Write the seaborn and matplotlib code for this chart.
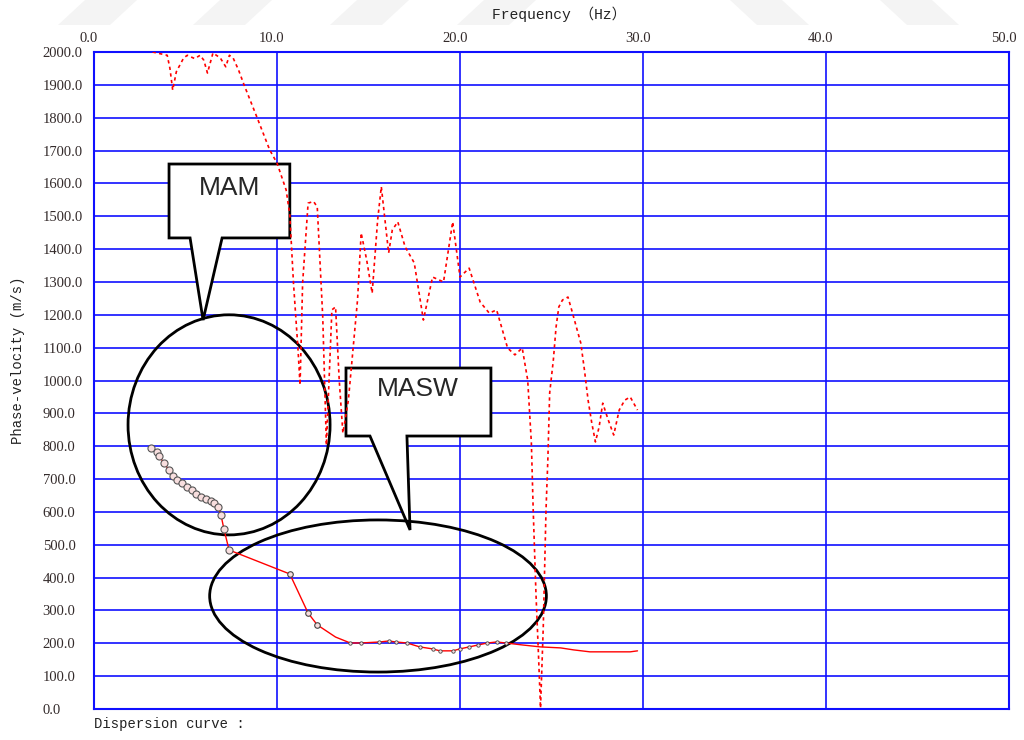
import matplotlib
matplotlib.use('Agg')
import matplotlib.pyplot as plt
import matplotlib.transforms as mtransforms
from matplotlib.patches import Ellipse, Polygon
import seaborn as sns

# dispersion image maximum (dotted red)
dot_f = [3.2, 3.6, 4.0, 4.15, 4.3, 4.5, 4.9, 5.1, 5.5, 5.8, 6.0, 6.2, 6.5, 6.9, 7.2, 7.4, 7.6, 7.9,
         8.2, 8.9, 9.6, 10.0, 10.5, 10.7, 10.9, 11.15, 11.26, 11.4, 11.7, 12.0, 12.2, 12.5, 12.7,
         13.0, 13.2, 13.4, 13.6, 13.9, 14.4, 14.6, 14.9, 15.2, 15.5, 15.7, 16.1, 16.3, 16.6, 17.0,
         17.5, 18.0, 18.5, 19.1, 19.6, 20.0, 20.5, 21.1, 21.6, 22.0, 22.6, 23.0, 23.4, 23.7, 23.9,
         24.0, 24.15, 24.3, 24.4, 24.55, 24.7, 24.8, 24.9, 25.1, 25.25, 25.4, 25.6, 25.9, 26.1,
         26.6, 26.8, 27.0, 27.2, 27.4, 27.6, 27.8, 28.1, 28.4, 28.7, 29.0, 29.3, 29.7]
dot_v = [2000, 1995, 1990, 1950, 1884, 1940, 1982, 1990, 1980, 1990, 1975, 1936, 1997, 1982, 1955,
         1990, 1982, 1945, 1900, 1802, 1702, 1662, 1580, 1504, 1297, 1093, 986, 1297, 1540, 1545,
         1528, 1193, 803, 1215, 1224, 1001, 840, 940, 1245, 1449, 1367, 1266, 1489, 1590, 1388,
         1458, 1483, 1407, 1358, 1184, 1315, 1300, 1483, 1315, 1342, 1239, 1205, 1215, 1099, 1078,
         1099, 1001, 810, 606, 353, 149, 3, 250, 606, 758, 962, 1062, 1163, 1224, 1245, 1254,
         1215, 1114, 1032, 940, 871, 813, 858, 931, 880, 834, 910, 940, 950, 910]

# picked dispersion curve: MAM part and MASW part
mam_f = [3.11, 3.44, 3.55, 3.83, 4.10, 4.33, 4.54, 4.80, 5.07, 5.35, 5.57, 5.84, 6.12, 6.39,
         6.56, 6.78, 6.94, 7.10, 7.38]
mam_v = [794, 782, 770, 749, 727, 709, 697, 688, 676, 667, 654, 645, 639, 633, 627, 615, 590, 548, 484]
masw_f = [10.7, 11.7, 12.2, 13.2, 14.0, 14.6, 15.6, 16.1, 16.5, 17.1, 17.8, 18.5, 18.9, 19.6,
          20.0, 20.5, 21.0, 21.5, 22.0, 22.5, 23.4, 24.4, 25.5, 26.2, 27.1, 28.0, 29.3, 29.7]
masw_v = [411, 292, 256, 219, 201, 201, 204, 207, 204, 201, 189, 183, 177, 177, 183, 189, 195,
          201, 204, 201, 195, 189, 186, 180, 174, 174, 174, 177]

x_ticks = [0, 10, 20, 30, 40, 50]
y_ticks = list(range(0, 2001, 100))

sns.set_style('white')
plt.rcParams['font.family'] = ['Liberation Serif', 'Noto Sans CJK SC']

fig = plt.figure(figsize=(10.24, 7.4), dpi=100)

# faint watermark at the top
for x0, d in [(58, 1), (193, 1), (330, 1), (457, 1), (757, -1), (907, -1)]:
    if d == 1:
        pts = [(x0, 25), (x0 + 52, 25), (x0 + 79, 0), (x0 + 27, 0)]
    else:
        pts = [(x0, 25), (x0 + 52, 25), (x0 + 25, 0), (x0 - 27, 0)]
    pts = [(px / 1024, 1 - py / 740) for px, py in pts]
    fig.patches.append(Polygon(pts, closed=True, transform=fig.transFigure,
                               facecolor='#f4f4f4', edgecolor='none'))

ax = fig.add_axes([94 / 1024, 31 / 740, 915 / 1024, 657 / 740])
ax.set_xlim(0, 50)
ax.set_ylim(0, 2000)

blue = '#1010ff'
ax.set_xticks(x_ticks)
ax.set_yticks(y_ticks)
ax.set_xticklabels([f'{t:.1f}' for t in x_ticks])
ax.set_yticklabels([f'{t:.1f}' for t in y_ticks])
ax.xaxis.tick_top()
ax.tick_params(axis='both', length=0, labelsize=10.5, labelcolor='#332a2a')
ax.tick_params(axis='x', pad=5)
ax.tick_params(axis='y', pad=37)
for lab in ax.get_yticklabels():
    lab.set_horizontalalignment('left')
shift = mtransforms.ScaledTranslation(-5 / 100, 0, fig.dpi_scale_trans)
for lab in ax.get_xticklabels():
    lab.set_transform(lab.get_transform() + shift)

ax.grid(True, color=blue, lw=1.2, zorder=0)
ax.set_axisbelow(True)
for s in ax.spines.values():
    s.set_color(blue)
    s.set_linewidth(1.5)

# callout boxes
mam_box = [(4.1, 1659), (4.1, 1434), (5.25, 1434), (5.96, 1184), (7.0, 1434), (10.7, 1434), (10.7, 1659)]
masw_box = [(13.77, 1038), (13.77, 831), (15.08, 831), (17.27, 545), (17.1, 831), (21.69, 831), (21.69, 1038)]
for pts in (mam_box, masw_box):
    ax.add_patch(Polygon(pts, closed=True, facecolor='white', edgecolor='black', lw=2, zorder=1.5))
ax.text(7.4, 1585, 'MAM', family='Liberation Sans', fontsize=19, ha='center', va='center', zorder=5)
ax.text(17.7, 975, 'MASW', family='Liberation Sans', fontsize=19, ha='center', va='center', zorder=5)

ax.add_patch(Ellipse((7.38, 865), 11.04, 670, fill=False, edgecolor='black', lw=2, zorder=3))
ax.add_patch(Ellipse((15.52, 344), 18.4, 463, fill=False, edgecolor='black', lw=2, zorder=3))

sns.lineplot(x=dot_f, y=dot_v, ax=ax, color='red', lw=1.2, linestyle=(0, (2, 2)),
             sort=False, estimator=None, zorder=4)
sns.lineplot(x=mam_f + masw_f, y=mam_v + masw_v, ax=ax, color='red', lw=1.0,
             sort=False, estimator=None, zorder=4)
sns.scatterplot(x=mam_f, y=mam_v, ax=ax, s=26, color='#f8dede', edgecolor='#555555',
                linewidth=0.8, zorder=5)
sns.scatterplot(x=masw_f[:3], y=masw_v[:3], ax=ax, s=16, color='#f8dede', edgecolor='#444444',
                linewidth=0.8, zorder=5)
sns.scatterplot(x=masw_f[4:20], y=masw_v[4:20], ax=ax, s=6, color='#f8dede', edgecolor='#444444',
                linewidth=0.6, zorder=5)
ax.set_xlabel('')
ax.set_ylabel('')

mono = ['Liberation Mono', 'Noto Sans CJK SC']
fig.text(559 / 1024, 1 - 14 / 740, 'Frequency （Hz）', fontsize=10.5, color='#222222',
         family=mono, ha='center', va='center')
fig.text(18 / 1024, 1 - 360 / 740, 'Phase-velocity (m/s)', fontsize=10, color='#222222',
         family=mono, ha='center', va='center', rotation=90)
fig.text(94 / 1024, 1 - 724 / 740, 'Dispersion curve :', fontsize=10, color='#222222',
         family=mono, ha='left', va='center')

fig.savefig('out.png', dpi=100)
